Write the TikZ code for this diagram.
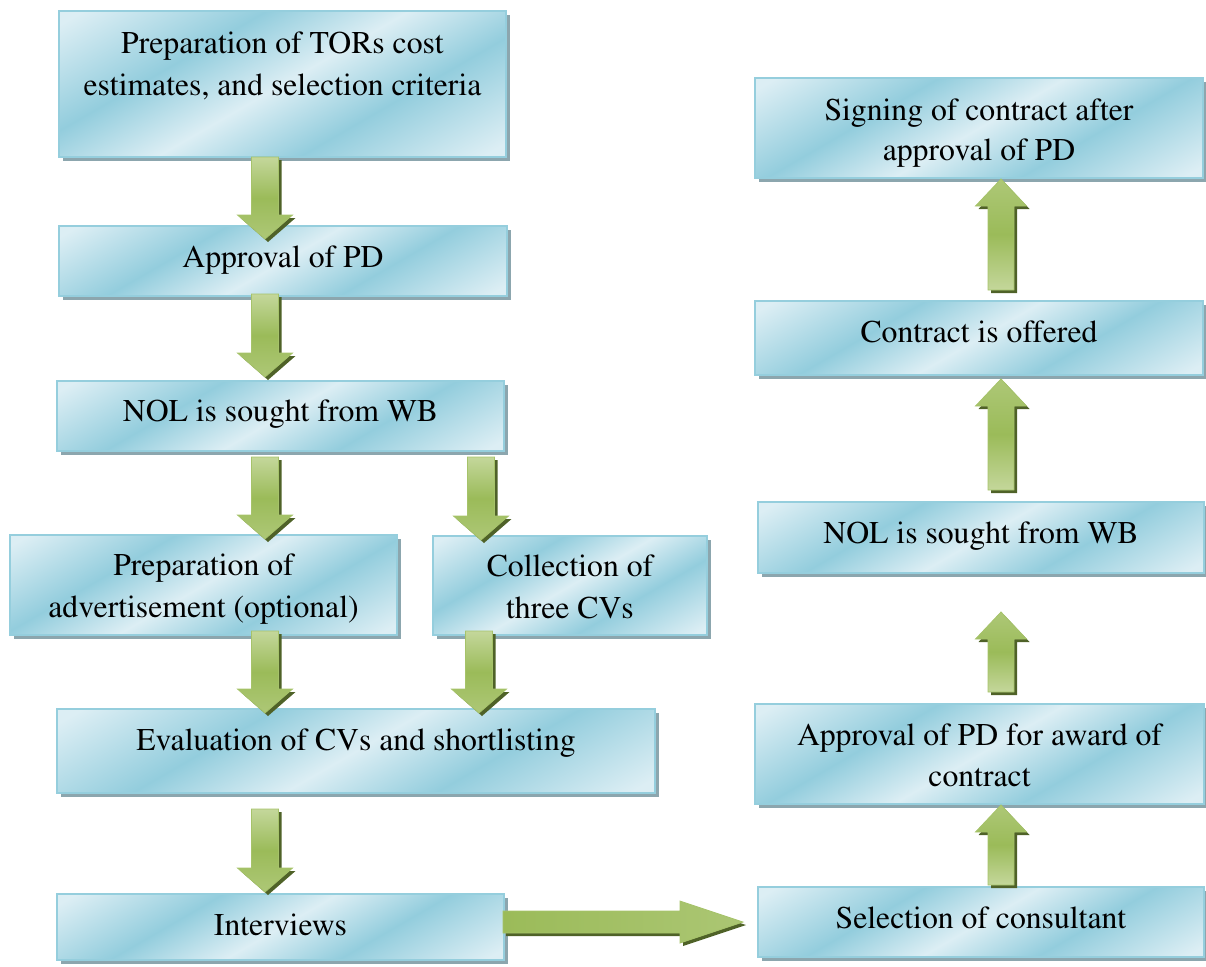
\documentclass[tikz,border=0pt]{standalone}
\usepackage[T1]{fontenc}
\usepackage{mathptmx}
\usetikzlibrary{calc,shadows}

\definecolor{bxlight}{HTML}{DCEEF4}
\definecolor{bxdark}{HTML}{93CDDD}
\definecolor{bxedge}{HTML}{95CEDD}
\definecolor{bxshadow}{HTML}{8CA6AE}
\definecolor{arrlight}{HTML}{C4D79B}
\definecolor{arrmid}{HTML}{9BBB59}
\definecolor{arredge}{HTML}{A6C36A}
\definecolor{arrshadow}{HTML}{4F6228}

% soft multi-band fill of the process boxes
\pgfdeclarehorizontalshading{daybreak}{100bp}{%
  color(0bp)=(bxlight); color(18bp)=(bxlight); color(36bp)=(bxdark);
  color(50bp)=(bxlight); color(64bp)=(bxdark); color(82bp)=(bxlight);
  color(100bp)=(bxlight)}

\tikzset{
  stepbox/.style={rectangle, anchor=north west, inner sep=0pt, outer sep=0pt,
    draw=bxedge, line width=1.6pt, shading=daybreak, shading angle=-60,
    drop shadow={shadow xshift=4pt, shadow yshift=-4pt, fill=bxshadow, opacity=1}},
  lbl/.style={anchor=base, inner sep=0pt, font=\rmfamily\fontsize{31.7}{42}\selectfont},
  blockarrow/.style={draw=arredge, line width=0.8pt, line join=miter,
    drop shadow={shadow xshift=3pt, shadow yshift=-3pt, fill=arrshadow, opacity=1}},
}

% block arrow pointing down: x centre, source, gap below source, target, overlap into target
\newcommand\blockdown[5]{%
  \path[blockarrow, top color=arrlight, bottom color=arrlight!45!arrmid, middle color=arrmid]
    let \p1=(#2.south), \p2=(#4.north) in
    ({#1pt-13.5pt},{\y1-(#3pt)}) -- ({#1pt+13.5pt},{\y1-(#3pt)})
    -- ({#1pt+13.5pt},{\y2-(#5pt)+24pt}) -- ({#1pt+27.5pt},{\y2-(#5pt)+24pt})
    -- ({#1pt},{\y2-(#5pt)})
    -- ({#1pt-27.5pt},{\y2-(#5pt)+24pt}) -- ({#1pt-13.5pt},{\y2-(#5pt)+24pt}) -- cycle;}

% block arrow pointing up: x centre, source, gap above source, target, gap below target
\newcommand\blockup[5]{%
  \path[blockarrow, bottom color=arrlight, top color=arrlight!45!arrmid, middle color=arrmid]
    let \p1=(#2.north), \p2=(#4.south) in
    ({#1pt-13pt},{\y1+(#3pt)}) -- ({#1pt+13pt},{\y1+(#3pt)})
    -- ({#1pt+13pt},{\y2-(#5pt)-27pt}) -- ({#1pt+25.5pt},{\y2-(#5pt)-27pt})
    -- ({#1pt},{\y2-(#5pt)})
    -- ({#1pt-25.5pt},{\y2-(#5pt)-27pt}) -- ({#1pt-13pt},{\y2-(#5pt)-27pt}) -- cycle;}

\begin{document}
\begin{tikzpicture}[x=1pt,y=-1pt]
\useasboundingbox (0,0) rectangle (1206,966);

% left column
\node[stepbox, minimum width=447pt, minimum height=146pt] (b1) at (59,11) {};
\node[stepbox, minimum width=448pt, minimum height=70pt]  (b2) at (59,226) {};
\node[stepbox, minimum width=447pt, minimum height=70pt]  (b3) at (57,381) {};
\node[stepbox, minimum width=387pt, minimum height=100pt] (b4) at (10,535) {};
\node[stepbox, minimum width=274pt, minimum height=99pt]  (b5) at (433,536) {};
\node[stepbox, minimum width=598pt, minimum height=84pt]  (b6) at (57,709) {};
\node[stepbox, minimum width=447pt, minimum height=66pt]  (b7) at (57,894) {};

% right column
\node[stepbox, minimum width=446pt, minimum height=70pt]  (r1) at (758,887) {};
\node[stepbox, minimum width=449pt, minimum height=100pt] (r2) at (755,704) {};
\node[stepbox, minimum width=446pt, minimum height=71pt]  (r3) at (758,502) {};
\node[stepbox, minimum width=448pt, minimum height=74pt]  (r4) at (755,301) {};
\node[stepbox, minimum width=448pt, minimum height=100pt] (r5) at (755,78) {};

% arrows between the steps
\blockdown{265}{b1}{0}{b2}{13}
\blockdown{265}{b2}{-2}{b3}{-4}
\blockdown{265}{b3}{6}{b4}{4}
\blockdown{481}{b3}{6}{b5}{4}
\blockdown{265}{b4}{-4}{b6}{4}
\blockdown{479}{b5}{-4}{b6}{4}
\blockdown{265}{b6}{16}{b7}{-2}

\path[blockarrow, left color=arrmid, right color=arrlight!40!arrmid]
  let \p1=(b7.east), \p2=(r1.west) in
  ({\x1-1pt},{\y2+11pt}) -- ({\x2-78pt},{\y2+11pt}) -- ({\x2-78pt},{\y2+21pt})
  -- ({\x2-15pt},\y2)
  -- ({\x2-78pt},{\y2-21pt}) -- ({\x2-78pt},{\y2-11pt}) -- ({\x1-1pt},{\y2-11pt}) -- cycle;

\blockup{1001}{r1}{2}{r2}{1}
\blockup{1001}{r2}{12}{r3}{39}
\blockup{1001}{r3}{12}{r4}{4}
\blockup{1001}{r4}{11}{r5}{1}

% labels
\node[lbl] (t1a) at (282.5,53) {Preparation of TORs cost};
\node[lbl] (t1b) at (282.5,95) {estimates, and selection criteria};
\node[lbl] (t2)  at (283,267) {Approval of PD};
\node[lbl] (t3)  at (280.5,421) {NOL is sought from WB};
\node[lbl] (t4a) at (203.5,575) {Preparation of};
\node[lbl] (t4b) at (203.5,617) {advertisement (optional)};
\node[lbl] (t5a) at (570,576) {Collection of};
\node[lbl] (t5b) at (570,618) {three CVs};
\node[lbl] (t6)  at (356,750) {Evaluation of CVs and shortlisting};
\node[lbl] (t7)  at (280.5,935) {Interviews};

\node[lbl] (s1)  at (981,928) {Selection of consultant};
\node[lbl] (s2a) at (979.5,745) {Approval of PD for award of};
\node[lbl] (s2b) at (979.5,786) {contract};
\node[lbl] (s3)  at (981,543) {NOL is sought from WB};
\node[lbl] (s4)  at (979,342) {Contract is offered};
\node[lbl] (s5a) at (979,120) {Signing of contract after};
\node[lbl] (s5b) at (979,160) {approval of PD};
\end{tikzpicture}
\end{document}
